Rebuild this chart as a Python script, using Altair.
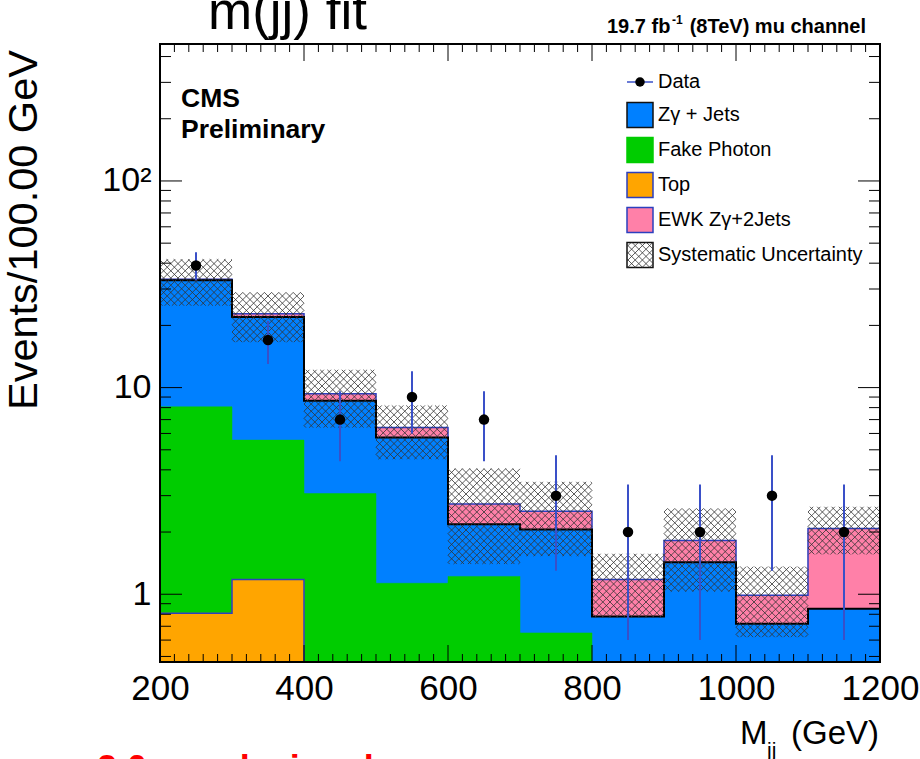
import math
import altair as alt
import pandas as pd

FONT = "Liberation Sans"

# ---------------- data ----------------
bin_lo = [200, 300, 400, 500, 600, 700, 800, 900, 1000, 1100]
bin_hi = [300, 400, 500, 600, 700, 800, 900, 1000, 1100, 1200]

top_v = [0.81, 1.18, 0, 0, 0, 0, 0, 0, 0, 0]
fake_v = [7.26, 4.39, 3.07, 1.13, 1.22, 0.65, 0, 0, 0, 0]
zg_v = [25.0, 16.4, 5.56, 4.61, 0.96, 1.41, 0.78, 1.43, 0.72, 0.85]
ewk_v = [0.40, 0.80, 0.70, 0.67, 0.55, 0.46, 0.40, 0.39, 0.27, 1.23]

syst_lo = [24.9, 16.6, 6.4, 4.5, 1.40, 1.53, 0.77, 1.03, 0.62, 1.56]
syst_hi = [41.8, 28.9, 12.2, 8.2, 4.06, 3.50, 1.57, 2.60, 1.36, 2.65]

data_v = [39, 17, 7, 9, 7, 3, 2, 2, 3, 2]
data_lo = [33.0, 13.0, 4.4, 6.0, 4.4, 1.3, 0.6, 0.6, 1.3, 0.6]
data_hi = [45.2, 21.0, 9.6, 12.0, 9.6, 4.7, 3.4, 3.4, 4.7, 3.4]

x_tick_labels = [200, 400, 600, 800, 1000, 1200]
y_tick_labels = [1, 10, 100]

legend_names = ["Zγ + Jets", "Fake Photon", "Top", "EWK Zγ+2Jets", "Systematic Uncertainty"]

# ---------------- geometry / styles ----------------
W, H = 720, 618
X0, X1 = 200, 1200
YMIN, YMAX = 0.47, 460.0
LMIN, LMAX = math.log10(YMIN), math.log10(YMAX)
PADL, PADT = 160, 44

BLUE = "#0080ff"
GREEN = "#00cc00"
ORANGE = "#ffa500"
PINK = "#ff80a8"
NAVY = "#2b3fbf"
ERRC = "#3a50c8"
HATCH = "#333333"


def px2x(px):
    return X0 + px / W * (X1 - X0)


def py2y(py):
    return 10 ** (LMAX - py / H * (LMAX - LMIN))


def x2px(x):
    return (x - X0) / (X1 - X0) * W


def y2py(y):
    return (LMAX - math.log10(y)) / (LMAX - LMIN) * H


xs = alt.Scale(domain=[X0, X1], nice=False, zero=False)
ys = alt.Scale(type="log", domain=[YMIN, YMAX], nice=False)

xaxis = alt.Axis(values=x_tick_labels, format="d", labelFontSize=35, labelFont=FONT,
                 labelColor="black", ticks=False, domain=False, grid=False,
                 labelPadding=9, labelFlush=False, labelOverlap=False, title=None)
yaxis = alt.Axis(values=y_tick_labels,
                 labelExpr="datum.value >= 100 ? '10²' : format(datum.value, 'd')",
                 labelFontSize=34, labelFont=FONT, labelColor="black", ticks=False,
                 domain=False, grid=False, labelPadding=9, labelFlush=False,
                 labelOverlap=False, title=None)


def X(f):
    return alt.X(f, type="quantitative", scale=xs, axis=xaxis, title=None)


def Y(f):
    return alt.Y(f, type="quantitative", scale=ys, axis=yaxis, title=None)


layers = []

# ---------------- stacked histogram (drawn from total downwards, like THStack) ----------------
c_top = list(top_v)
c_fake = [a + b for a, b in zip(c_top, fake_v)]
c_zg = [a + b for a, b in zip(c_fake, zg_v)]
c_ewk = [a + b for a, b in zip(c_zg, ewk_v)]

stack = [(c_ewk, PINK, NAVY, 1.5), (c_zg, BLUE, "black", 2.0),
         (c_fake, GREEN, None, 0), (c_top, ORANGE, NAVY, 1.5)]

for cum, fill, lc, lw in stack:
    rows = [{"x": lo, "x2": hi, "y": YMIN, "y2": c}
            for lo, hi, c in zip(bin_lo, bin_hi, cum) if c > YMIN]
    layers.append(alt.Chart(pd.DataFrame(rows)).mark_rect(color=fill, stroke=fill, strokeWidth=0.5)
                  .encode(x=X("x"), x2="x2", y=Y("y"), y2="y2"))
    if lc:
        pts = []
        k = 0
        for lo, hi, c in zip(bin_lo, bin_hi, cum):
            v = max(c, YMIN)
            pts.append({"x": lo, "y": v, "o": k}); k += 1
            pts.append({"x": hi, "y": v, "o": k}); k += 1
        layers.append(alt.Chart(pd.DataFrame(pts)).mark_line(color=lc, strokeWidth=lw, clip=True)
                      .encode(x=X("x"), y=Y("y"), order="o:Q"))


# ---------------- cross hatch helper (pixel-space 45° lines, mapped back through scales) ----------------
def hatch(px0, px1, py0, py1, p=7.2):
    segs = []
    for k in range(math.floor((py0 - px1) / p) - 1, math.ceil((py1 - px0) / p) + 2):
        c = k * p
        xa = max(px0, py0 - c); xb = min(px1, py1 - c)
        if xb - xa > 0.4:
            segs.append((xa, xa + c, xb, xb + c))
    for k in range(math.floor((py0 + px0) / p) - 1, math.ceil((py1 + px1) / p) + 2):
        c = k * p
        xa = max(px0, c - py1); xb = min(px1, c - py0)
        if xb - xa > 0.4:
            segs.append((xa, c - xa, xb, c - xb))
    return [{"x": px2x(a), "y": py2y(b), "x2": px2x(cc), "y2": py2y(d)} for a, b, cc, d in segs]


hrows = []
for lo, hi, sl, sh in zip(bin_lo, bin_hi, syst_lo, syst_hi):
    hrows += hatch(x2px(lo), x2px(hi), y2py(sh), y2py(max(sl, YMIN)))
layers.append(alt.Chart(pd.DataFrame(hrows)).mark_rule(color=HATCH, strokeWidth=1, opacity=0.8)
              .encode(x=X("x"), y=Y("y"), x2="x2", y2="y2"))

# ---------------- data points ----------------
ddf = pd.DataFrame({"x": [(a + b) / 2 for a, b in zip(bin_lo, bin_hi)],
                    "v": data_v, "lo": data_lo, "hi": data_hi})
layers.append(alt.Chart(ddf).mark_rule(color=ERRC, strokeWidth=2)
              .encode(x=X("x"), y=Y("lo"), y2="hi"))
layers.append(alt.Chart(ddf).mark_point(filled=True, size=110, color="black", opacity=1)
              .encode(x=X("x"), y=Y("v")))

# ---------------- ticks inside the frame ----------------
vt = []
for v in range(200, 1201, 20):
    L = 17 if v % 200 == 0 else 8
    vt.append({"x": v, "y": YMIN, "y2": py2y(H - L)})
    vt.append({"x": v, "y": YMAX, "y2": py2y(L)})
layers.append(alt.Chart(pd.DataFrame(vt)).mark_rule(color="black", strokeWidth=1)
              .encode(x=X("x"), y=Y("y"), y2="y2"))

ht = []
yt_vals = [0.5, 0.6, 0.7, 0.8, 0.9] + [m * 10 ** e for e in range(0, 3) for m in range(1, 10)]
for v in yt_vals:
    if v < YMIN or v > YMAX:
        continue
    L = 22 if abs(math.log10(v) - round(math.log10(v))) < 1e-9 else 11
    ht.append({"y": v, "x": X0, "x2": px2x(L)})
    ht.append({"y": v, "x": X1, "x2": px2x(W - L)})
layers.append(alt.Chart(pd.DataFrame(ht)).mark_rule(color="black", strokeWidth=1)
              .encode(y=Y("y"), x=X("x"), x2="x2"))

# frame
layers.append(alt.Chart(pd.DataFrame([{"x": X0, "x2": X1, "y": YMIN, "y2": YMAX}]))
              .mark_rect(filled=False, stroke="black", strokeWidth=2, fillOpacity=0)
              .encode(x=X("x"), x2="x2", y=Y("y"), y2="y2"))

# ---------------- legend ----------------
LX0, LX1 = 627 - PADL, 653 - PADL
row_c = [115 - PADT, 150 - PADT, 185 - PADT, 220 - PADT, 255 - PADT]
fills = [BLUE, GREEN, ORANGE, PINK, "white"]
strokes = ["#111111", GREEN, NAVY, NAVY, "#111111"]
lrows = [{"x": px2x(LX0), "x2": px2x(LX1), "y": py2y(rc + 12.5), "y2": py2y(rc - 12.5),
          "f": f, "s": s} for rc, f, s in zip(row_c, fills, strokes)]
layers.append(alt.Chart(pd.DataFrame(lrows)).mark_rect(strokeWidth=1.5)
              .encode(x=X("x"), x2="x2", y=Y("y"), y2="y2",
                      fill=alt.Fill("f:N", scale=None), stroke=alt.Stroke("s:N", scale=None)))
layers.append(alt.Chart(pd.DataFrame(hatch(LX0, LX1, row_c[4] - 12.5, row_c[4] + 12.5)))
              .mark_rule(color=HATCH, strokeWidth=1, opacity=0.8)
              .encode(x=X("x"), y=Y("y"), x2="x2", y2="y2"))
drow = 82 - PADT
layers.append(alt.Chart(pd.DataFrame([{"x": px2x(LX0), "x2": px2x(LX1), "y": py2y(drow)}]))
              .mark_rule(color=ERRC, strokeWidth=1.5).encode(x=X("x"), x2="x2", y=Y("y")))
layers.append(alt.Chart(pd.DataFrame([{"x": px2x(640 - PADL), "y": py2y(drow)}]))
              .mark_point(filled=True, size=90, color="black", opacity=1)
              .encode(x=X("x"), y=Y("y")))
ltext = [{"x": px2x(658 - PADL), "y": py2y(rc), "t": t}
         for rc, t in zip([drow] + row_c, ["Data"] + legend_names)]
layers.append(alt.Chart(pd.DataFrame(ltext))
              .mark_text(align="left", baseline="middle", fontSize=20, font=FONT, color="black")
              .encode(x=X("x"), y=Y("y"), text="t:N"))


# ---------------- free texts ----------------
def txt(s, x, y, size, weight="normal", align="left", baseline="alphabetic", angle=None, color="black"):
    kw = dict(text=s, fontSize=size, fontWeight=weight, align=align, baseline=baseline,
              color=color, font=FONT)
    if angle is not None:
        kw["angle"] = angle
    return alt.Chart(alt.Data(values=[{"a": 1}])).mark_text(**kw).encode(
        x=alt.value(x - PADL), y=alt.value(y - PADT))


layers += [
    txt("m(jj) fit", 208, 29, 53),
    txt("19.7 fb", 607, 33, 20, weight="bold"),
    txt("-1", 672, 24, 12, weight="bold"),
    txt("(8TeV) mu channel", 866, 33, 20, weight="bold", align="right"),
    txt("CMS", 181, 107, 26.5, weight="bold"),
    txt("Preliminary", 181, 138, 26.5, weight="bold"),
    txt("Events/100.00 GeV", 37, 410, 41.5, angle=270),
    txt("M", 740, 744, 33),
    txt("jj", 767, 757, 21),
    txt("(GeV)", 879, 744, 33, align="right"),
    txt("2.0 σ ewk signal", 97, 781, 36, weight="bold", color="#ff0000"),
]

chart = alt.layer(*layers).properties(
    width=W, height=H,
    autosize=alt.AutoSizeParams(type="none"),
    padding={"left": PADL, "top": PADT, "right": 920 - PADL - W, "bottom": 759 - PADT - H},
    background="white",
).configure_view(stroke=None).configure_text(font=FONT)

chart.save("out.html", embed_options={"renderer": "svg", "actions": False})
